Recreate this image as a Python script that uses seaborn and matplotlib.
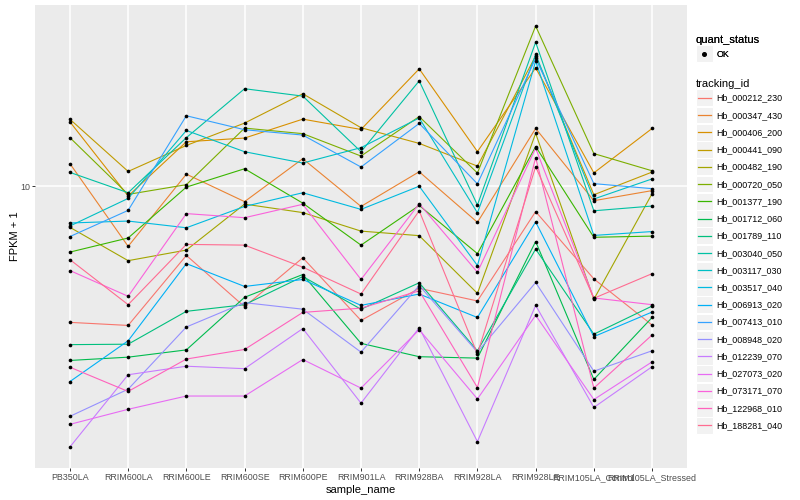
import numpy as np
import pandas as pd
import seaborn as sns
import matplotlib
matplotlib.use("Agg")
import matplotlib.pyplot as plt
from matplotlib.lines import Line2D
from matplotlib.patches import Rectangle
from matplotlib.legend_handler import HandlerBase
from matplotlib.ticker import NullLocator

samples = ["PB350LA", "RRIM600LA", "RRIM600LE", "RRIM600SE", "RRIM600PE", "RRIM901LA",
           "RRIM928BA", "RRIM928LA", "RRIM928LE", "RRIM105LA_Control", "RRIM105LA_Stressed"]

# FPKM + 1 (log axis)
hb_000212_230 = [4.57, 4.49, 6.72, 5.00, 6.63, 4.62, 5.56, 5.17, 8.65, 5.87, 4.50]
hb_000347_430 = [11.40, 7.08, 10.73, 9.16, 11.73, 8.91, 10.88, 8.13, 13.96, 9.21, 9.76]
hb_000406_200 = [14.50, 9.46, 12.93, 13.21, 14.73, 13.88, 19.68, 12.22, 19.79, 10.81, 13.96]
hb_000441_090 = [14.72, 10.90, 12.66, 14.40, 17.05, 14.02, 12.81, 11.24, 21.19, 9.53, 10.86]
hb_000482_190 = [7.90, 6.52, 6.93, 9.03, 8.60, 7.73, 7.53, 5.40, 13.57, 5.22, 9.59]
hb_000720_050 = [13.24, 9.55, 10.10, 13.99, 13.55, 11.91, 14.95, 10.80, 25.18, 12.08, 10.94]
hb_001377_190 = [6.85, 7.43, 9.96, 11.07, 9.08, 7.13, 8.96, 6.79, 12.58, 7.46, 7.51]
hb_001712_060 = [3.67, 3.74, 3.90, 5.28, 6.02, 4.05, 3.75, 3.72, 7.28, 3.29, 4.70]
hb_001789_110 = [4.02, 4.03, 4.87, 5.06, 5.95, 4.93, 5.74, 3.88, 6.97, 4.27, 5.02]
hb_003040_050 = [10.84, 9.64, 13.24, 17.55, 16.82, 12.21, 18.36, 8.98, 22.94, 8.69, 8.93]
hb_003117_030 = [7.96, 9.33, 13.80, 12.21, 11.44, 12.50, 14.83, 8.59, 21.39, 9.30, 10.44]
hb_003517_040 = [8.10, 8.19, 7.88, 8.91, 9.64, 8.76, 10.01, 6.34, 20.58, 7.54, 7.71]
hb_006913_020 = [3.25, 4.11, 6.41, 5.62, 5.85, 5.04, 5.38, 4.70, 8.15, 4.21, 4.85]
hb_007413_010 = [7.49, 8.71, 15.02, 13.86, 13.44, 11.18, 14.37, 10.15, 20.91, 10.16, 9.87]
hb_008948_020 = [2.66, 3.11, 4.45, 5.12, 4.93, 3.85, 5.65, 3.85, 5.75, 3.45, 3.88]
hb_012239_070 = [2.23, 3.38, 3.55, 3.50, 4.41, 2.87, 4.43, 2.30, 5.04, 2.80, 3.54]
hb_027073_020 = [2.54, 2.77, 2.99, 2.99, 3.69, 3.13, 4.38, 2.94, 4.76, 2.93, 3.64]
hb_073171_070 = [6.16, 5.31, 8.55, 8.35, 9.02, 5.85, 9.05, 6.10, 12.46, 5.26, 5.06]
hb_122968_010 = [3.53, 3.07, 3.70, 3.91, 4.84, 4.96, 5.48, 3.14, 11.80, 3.13, 4.25]
hb_188281_040 = [6.56, 5.06, 7.16, 7.13, 6.28, 5.38, 8.69, 3.81, 11.20, 5.25, 6.05]

genes = ["Hb_000212_230", "Hb_000347_430", "Hb_000406_200", "Hb_000441_090", "Hb_000482_190",
         "Hb_000720_050", "Hb_001377_190", "Hb_001712_060", "Hb_001789_110", "Hb_003040_050",
         "Hb_003117_030", "Hb_003517_040", "Hb_006913_020", "Hb_007413_010", "Hb_008948_020",
         "Hb_012239_070", "Hb_027073_020", "Hb_073171_070", "Hb_122968_010", "Hb_188281_040"]
values = [hb_000212_230, hb_000347_430, hb_000406_200, hb_000441_090, hb_000482_190,
          hb_000720_050, hb_001377_190, hb_001712_060, hb_001789_110, hb_003040_050,
          hb_003117_030, hb_003517_040, hb_006913_020, hb_007413_010, hb_008948_020,
          hb_012239_070, hb_027073_020, hb_073171_070, hb_122968_010, hb_188281_040]

# ggplot default hue palette for 20 levels
palette = ["#F8766D", "#EA8331", "#D89000", "#C09B00", "#A3A500", "#7CAE00", "#39B600",
           "#00BB4E", "#00BF7D", "#00C1A3", "#00BFC4", "#00BAE0", "#00B0F6", "#35A2FF",
           "#9590FF", "#C77CFF", "#E76BF3", "#FA62DB", "#FF62BC", "#FF6C91"]

rows = []
for g, vals in zip(genes, values):
    for s, v in zip(samples, vals):
        rows.append({"tracking_id": g, "sample_name": s, "fpkm": v, "quant_status": "OK"})
df = pd.DataFrame(rows)

plt.rcParams["font.family"] = ["Liberation Sans", "DejaVu Sans"]

fig = plt.figure(figsize=(8, 5), dpi=100)
ax = fig.add_axes([35 / 800, 32 / 500, 652 / 800, 463 / 500])
ax.set_facecolor("#EBEBEB")

sns.lineplot(data=df, x="sample_name", y="fpkm", hue="tracking_id", hue_order=genes,
             palette=palette, sort=False, estimator=None, legend=False, linewidth=0.8, ax=ax)
sns.scatterplot(data=df, x="sample_name", y="fpkm", color="black", s=7, linewidth=0,
                legend=False, zorder=3, ax=ax)

ax.set_yscale("log")
lo, hi = np.log10(df["fpkm"].min()), np.log10(df["fpkm"].max())
pad = (hi - lo) * 0.05
ax.set_ylim(10 ** (lo - pad), 10 ** (hi + pad))
ax.set_xlim(-0.6, len(samples) - 0.4)
ax.set_yticks([10])
ax.set_yticklabels(["10"])
ax.yaxis.set_minor_locator(NullLocator())

ax.grid(True, color="white", linewidth=1.1)
ax.set_axisbelow(True)
for sp in ax.spines.values():
    sp.set_visible(False)
ax.tick_params(length=2, width=0.7, color="#333333", labelcolor="#4D4D4D",
               labelsize=6.4, pad=1.6)
ax.set_xlabel("sample_name", fontsize=8, labelpad=2)
ax.set_ylabel("FPKM + 1", fontsize=8, labelpad=0)


class KeyHandler(HandlerBase):
    # grey key square with a line (or a dot) in its middle, like ggplot keys
    def create_artists(self, legend, orig_handle, xdescent, ydescent, width, height,
                       fontsize, trans):
        bg = Rectangle((-xdescent, -ydescent), width, height, facecolor="#F2F2F2",
                       edgecolor="white", linewidth=0.8, transform=trans)
        yc = -ydescent + height / 2
        if orig_handle.get_marker() not in (None, "None", ""):
            mark = Line2D([-xdescent + width / 2], [yc], linestyle="none",
                          marker=orig_handle.get_marker(),
                          markersize=orig_handle.get_markersize(),
                          color=orig_handle.get_color(), transform=trans)
        else:
            mark = Line2D([-xdescent + 1.2, -xdescent + width - 1.2], [yc, yc],
                          color=orig_handle.get_color(),
                          linewidth=orig_handle.get_linewidth(), transform=trans)
        return [bg, mark]


leg_kw = dict(loc="upper left", frameon=False, fontsize=6.4, title_fontsize=8,
              alignment="left", handlelength=1.9, handleheight=2.53, handletextpad=0.4,
              labelspacing=0.05, borderpad=0, borderaxespad=0,
              handler_map={Line2D: KeyHandler()})

ok_handle = [Line2D([], [], linestyle="none", marker="o", markersize=2.6, color="black")]
leg1 = fig.legend(ok_handle, ["OK"], title="quant_status",
                  bbox_to_anchor=(696 / 800, 1 - 35 / 500), **leg_kw)

gene_handles = [Line2D([], [], color=c, linewidth=0.9) for c in palette]
leg2 = fig.legend(gene_handles, genes, title="tracking_id",
                  bbox_to_anchor=(696 / 800, 1 - 79 / 500), **leg_kw)
fig.add_artist(leg1)

fig.savefig("out.png", dpi=100)
